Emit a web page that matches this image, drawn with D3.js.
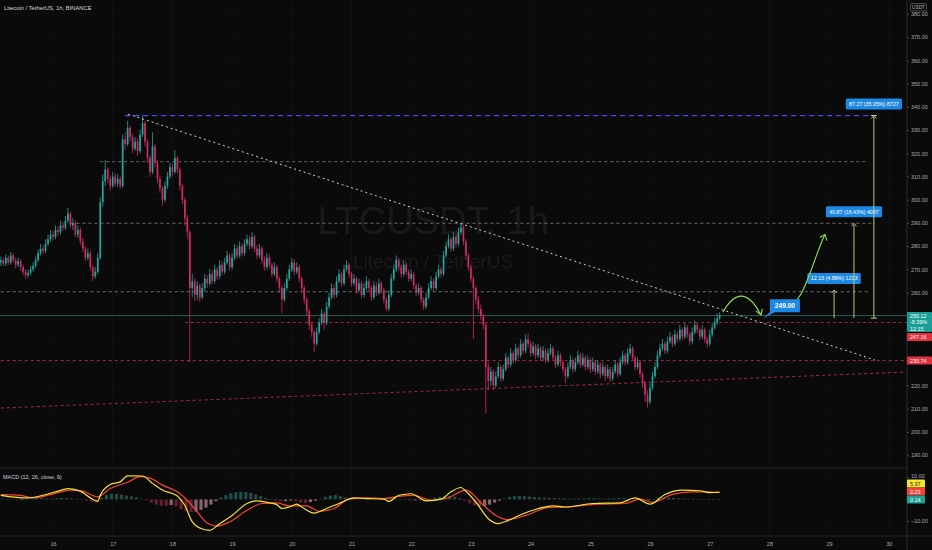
<!DOCTYPE html>
<html><head><meta charset="utf-8">
<script src="https://cdn.jsdelivr.net/npm/d3@7"></script>
<style>
html,body{margin:0;padding:0;background:#0a0a0a;overflow:hidden}
svg{display:block}
text{font-family:"Liberation Sans",Arial,sans-serif}
</style>
</head><body>
<svg id="c" width="932" height="550"></svg>
<script>
// ---------------- DATA ----------------
const startHourUTC = [2021, 3, 15, 3]; // first candle: 15 Apr 2021 03:00, 1h candles
const firstOpen = 273;
const closes = [
274,272.5,275,273,276,274,272,273.5,271,269,
267.5,268.5,270,271.5,274,277,279,278,281,283,
285,284,287,286,289,288,291,294,289,290,
285,287,282,279,275,277,271,267,269,275,
299,308,313,309,306,310,307,309,306,326,
324,331,327,322,325,321,328,333,325,318,
312,323,316,309,305,300,306,310,314,312,
318,313,306,300,292,286,262,265,259,263,
258,262,266,264,268,265,270,267,272,269,
273,276,271,275,279,276,280,277,281,283,
280,284,279,276,279,274,271,275,272,268,
271,266,262,257,262,266,270,273,269,271,
266,262,257,252,246,243,238,243,247,251,
247,254,258,262,259,265,268,264,270,272,
268,264,266,261,264,259,262,265,262,258,
263,260,264,261,257,253,259,266,270,274,
271,268,272,269,266,268,263,260,262,257,
254,258,262,265,262,267,270,268,276,280,
283,279,284,281,286,288,282,276,271,266,
262,257,253,250,246,228,222,226,220,224,
228,223,227,232,229,234,231,236,233,238,
235,240,238,234,237,233,236,232,235,231,
234,236,232,229,233,230,227,224,228,231,
227,230,233,229,232,228,231,227,230,226,
229,225,228,224,227,223,226,229,225,230,
233,230,234,236,232,228,230,225,221,216,
213,219,224,228,233,236,238,235,239,241,
238,242,240,244,241,245,242,239,243,246,
244,241,244,240,238,242,245,247,249,250.12];
const highs = [
275.5,275,276.5,276,277.5,277,275,275,274.5,272,
270,270,271.5,273,275.5,278.5,281,280.5,283,285,
287,286.5,289,288.5,291,290.5,293,296.5,295,292,
291,289,288,283.5,280,279,278,272,271,277,
301,311,317,314,310.5,312,311.5,311,310,328,
329,334,332,328.5,327,326.5,330,336.2,334,326,
319,329,324,317,310.5,306,308,312,316,315.5,
321.4,319,314,307,301,293.5,287,268,266.5,265,
264,264,268,267.5,270,269.5,272,271,274,273.5,
275,278,277,277,281,280.5,282,281.5,283,285,
284.5,286,285,280.5,281,280,275.5,277,276.5,273,
273,272,267,263,264,268,272,275,274.5,273,
272,267,263,258,253,247.5,244,245,249,253,
252,256,260,264,263.5,267,270,269,272,274,
273,269,268,267,266,265,264,267,266,263,
265,264.5,266,265,262,258,261,268,272,276,
275,272,274,273,270,270,269,264,264,263,
258,260,264,267,266,269,272,271,278,282,
285,284,286,285.5,288,290,289,283,277,272,
267,263,258.5,255,251,247,230,228,227,226,
230,229,229,234,233,236,235,238,237,240,
239,242,242.6,239,239,238,238,237,237,236,
236,238,237,233,235,234,231,228,230,233,
232,232,235,234,234,233,233,232,232,231,
231,230,230,229,229,228,228,231,230,232,
235,234,236,238,237,233,232,231,226,222,
218,221,226,230,235,238,240,239,241,243,
242,244,243.5,246,245,247,246,243,245,248,
247,245,246,245,241,244,247,249,251,251.5];
const lows = [
271.5,271.5,271.5,272,272,273,270.5,271,269.5,267.5,
266,266.5,267.5,269,270.5,273,276,276.5,277,280,
282,282.5,283,284.5,285,286.5,287,290,288,287,
284,283.5,280.5,277.5,273.5,274,269.5,265,266,268,
274,297,306,307,304,305,305.5,305.5,304.5,305,
321.5,323,325,320,321,319,320,327,323,316,
310,311,314,307,303,297.5,299,304.5,309,310,
311,311.5,304,298,289,283,230,258,256.5,257,
256,257,260.5,262,263,263.5,264,265.5,266,267.5,
268,272,269.5,270,274,274.5,275,275.5,276,280,
278.5,279,277.5,274.5,275,272.5,269.5,270,270.5,266.5,
267,264.5,260,251,256,261,265,269,267.5,268,
264.5,260,255,250,244,241,234.5,237,242,246,
244,246,253,257,257.5,258,264,262.5,263,269,
266.5,262.5,263,259.5,260,257.5,258,261,260.5,256.5,
257,258.5,259,259.5,255.5,252,252,258,265,269,
269.5,266.5,267,267.5,264.5,265,261.5,258.5,259,255.5,
252.5,253,257,261,260.5,261,266,266.5,267,275,
279,277.5,278,279.5,280,285,280.5,274.5,269.5,264.5,
240,255,251,248,244,208,218,220,218,219,
223,221.5,222,226,227.5,228,229.5,230,231.5,232,
233.5,234,236.5,232.5,233,231.5,232,230.5,231,229.5,
230,233,230.5,227.5,228,228.5,225.5,221,223,227,
225.5,226,229,227.5,228,226.5,227,225.5,226,224.5,
225,223,224,222,223,221.5,222,225,223.5,224,
229,228.5,229,233,230.5,226.5,227,223.5,219,213,
210.5,212,218,223,227,232,235,233.5,234,238,
236.5,237,238.5,239,239.5,240,240.5,237.5,238,242,
242.5,239.5,240,238.5,236.5,237,241,244,246,248];

// MACD (hour index from first candle, value)
const macdHours = [0,11,17,23,27,32,36,39,40,44,48,51,57,61,65,71,74,77,80,84,88,93,99,103,107,111,113,116,119,121,126,131,136,142,147,154,156,160,165,171,177,181,185,187,191,196,200,204,210,214,222,227,238,249,255,261,267,274,281,285,289];
const macdVals  = [1.9,0.7,1.9,3.8,5.0,3.8,0.7,-0.9,1.9,6.9,8.1,10.9,10.8,7.4,4.3,1.6,-2.7,-10.4,-13.2,-14.3,-11.2,-7.4,-1.9,-0.7,-1.4,-2.4,-4.2,-3.5,-2.2,-3.5,-6.3,-4.2,-1.9,0.7,0.4,0.1,-0.9,1.9,2.6,-0.7,0.1,3.5,5.5,3.8,-1.2,-8.9,-11.2,-9.7,-6.6,-5.0,-3.0,-3.5,-1.9,-1.6,0.7,-2.2,2.3,4.3,4.0,3.1,3.3];
const signalHours = [0,8,13,20,28,33,39,44,51,56,60,65,71,75,79,83,87,92,99,105,111,116,123,128,134,140,147,154,160,166,173,179,187,194,199,204,211,220,227,240,251,257,262,270,278,284,289];
const signalVals  = [2.2,1.9,0.7,2.2,4.3,3.8,1.2,5.0,7.9,10.5,9.8,6.6,3.5,-0.4,-5.8,-10.9,-12.3,-10.4,-5.0,-1.9,-1.6,-3.0,-3.0,-5.5,-4.2,0.1,0.7,0.4,1.4,1.9,-0.4,0.4,4.3,-2.7,-7.4,-9.3,-7.4,-3.8,-3.5,-2.2,-1.9,0.1,-1.4,2.3,3.5,3.5,3.2];
// histogram, one value per 2 hours
const histVals = [
0.3,0.2,-0.2,-0.4,-0.3,0.1,0.3,0.5,0.6,0.4,
0.3,0.5,0.7,0.6,0.4,0.1,-0.3,-0.6,-1.0,-1.5,
0.8,2.0,2.6,2.5,2.2,1.8,1.4,0.9,0.3,-0.5,
-1.5,-2.4,-2.9,-3.0,-2.6,-3.2,-4.5,-5.5,-5.8,-5.6,
-4.8,-3.8,-2.4,-0.8,0.9,2.0,2.8,3.3,3.5,3.4,
3.0,2.3,1.5,0.7,0.0,-0.6,-1.0,-0.8,-0.5,-0.9,
-1.4,-1.6,-1.2,-0.6,0.3,1.2,1.8,2.0,1.6,1.0,
0.6,0.4,0.3,0.2,0.0,-0.3,0.2,0.6,0.8,0.6,
0.3,-0.2,-0.5,-0.4,-0.2,0.0,0.4,0.8,1.2,1.5,
1.6,1.3,0.6,-0.6,-1.8,-2.8,-3.2,-3.0,-2.4,-1.5,
-0.6,0.4,1.1,1.5,1.6,1.5,1.3,1.1,0.9,0.8,
0.7,0.6,0.5,0.5,0.4,0.4,0.4,0.4,0.5,0.5,
0.4,0.3,0.4,0.5,0.6,0.5,0.3,0.1,-0.3,-0.6,
-0.4,0.3,0.8,1.0,0.9,0.7,0.5,0.4,0.3,0.3,
0.2,0.1,0.1,0.2,0.2];

const priceTicks = [190,200,210,220,230,240,250,260,270,280,290,300,310,320,330,340,350,360,370,380];
const hiddenPriceTicks = [230,240,250]; // covered by the price tags
const macdTicks = [10,-10];
const dayTicks = [16,17,18,19,20,21,22,23,24,25,26,27,28,29,30];

// drawings (hour index, price)
const levelPrices = [336.27, 316.4, 289.87, 260.4, 247.16, 230.74];
const levelStart  = [50, 40, 28, 0, 74, 0];
const levelEnd    = [350.6, 348.2, 351.4, 349.4, 366, 366];
const trendFrom = [51.1, 336.9], trendTo = [351.4, 231.0];
const supportFrom = [0, 210.3], supportTo = [366, 225.9];
const lastPrice = 250.12;
const basePrice = 249.0;
const rangeHours = [335, 343, 351];
const rangeTops = [261.13, 289.87, 336.27];
const rangeLabels = ["12.13 (4.88%) 1213", "40.87 (16.43%) 4087", "87.27 (35.05%) 8727"];
const calloutHour = 306.4, calloutText = "249.00";
const arc1 = [[290.3,251.6],[298,266],[305.6,250.4]];
const arc2 = [[315.3,253.5],[323,255],[325,270],[331.3,285]];

// ---------------- DRAW ----------------
const svg = d3.select("#c");
const W = 932, H = 550, axisX = 907, mainBottom = 467, macdTop = 468, macdBottom = 536;
const HOUR = 3600e3;
const t0 = Date.UTC(...startHourUTC);
const tAt = h => new Date(t0 + h * HOUR);
const x = d3.scaleUtc().domain([tAt(-0.3055), tAt(364.32)]).range([0, axisX]);
const y = d3.scaleLinear().domain([184.91, 386.03]).range([mainBottom, 0]);
const ym = d3.scaleLinear().domain([-16.9, 14.5]).range([macdBottom, macdTop]);
const xh = h => x(tAt(h));

svg.append("rect").attr("width", W).attr("height", H).attr("fill", "#0a0a0a");

// grid
const grid = svg.append("g");
grid.selectAll(".vg").data(dayTicks).join("line")
  .attr("x1", d => x(new Date(Date.UTC(2021,3,d)))).attr("x2", d => x(new Date(Date.UTC(2021,3,d))))
  .attr("y1", 0).attr("y2", macdBottom).attr("stroke", "#ffffff").attr("stroke-opacity", 0.03);
grid.selectAll(".hg").data(priceTicks).join("line")
  .attr("x1", 0).attr("x2", axisX).attr("y1", d => y(d)).attr("y2", d => y(d))
  .attr("stroke", "#ffffff").attr("stroke-opacity", 0.025);

// watermark
svg.append("text").attr("x", 433).attr("y", 234).attr("text-anchor", "middle")
  .attr("font-size", 38).attr("fill", "#ffffff").attr("fill-opacity", 0.075).text("LTCUSDT, 1h");
svg.append("text").attr("x", 433).attr("y", 268).attr("text-anchor", "middle")
  .attr("font-size", 19).attr("fill", "#ffffff").attr("fill-opacity", 0.075).text("Litecoin / TetherUS");

svg.append("defs").append("clipPath").attr("id", "mc").append("rect")
  .attr("x", 0).attr("y", 0).attr("width", axisX).attr("height", mainBottom);
const main = svg.append("g").attr("clip-path", "url(#mc)");

// horizontal level lines
const levelColor = ["#4a4aff", "#6a6a6a", "#6a6a6a", "#6a6a6a", "#a8283f", "#a8283f"];
const levelDash = ["5,4", "3,3", "3,3", "3,3", "3,3", "3,3"];
const levelWidth = [1.3, 1, 1, 1, 1, 1];
main.selectAll(".lvl").data(levelPrices).join("line")
  .attr("x1", (d,i) => xh(levelStart[i])).attr("x2", (d,i) => xh(levelEnd[i]))
  .attr("y1", d => y(d)).attr("y2", d => y(d))
  .attr("stroke", (d,i) => levelColor[i]).attr("stroke-width", (d,i) => levelWidth[i])
  .attr("stroke-dasharray", (d,i) => levelDash[i]);
// sloping support
main.append("line").attr("x1", xh(supportFrom[0])).attr("y1", y(supportFrom[1]))
  .attr("x2", xh(supportTo[0])).attr("y2", y(supportTo[1]))
  .attr("stroke", "#a8283f").attr("stroke-dasharray", "3,3");
// last price line
main.append("line").attr("x1", 0).attr("x2", axisX).attr("y1", y(lastPrice)).attr("y2", y(lastPrice))
  .attr("stroke", "#2f5a56").attr("stroke-width", 1);

// candles
const candles = closes.map((c, i) => ({i, o: i ? closes[i-1] : firstOpen, c, h: highs[i], l: lows[i]}));
const upC = "#26a69a", dnC = "#d02a62";
const cg = main.append("g");
cg.selectAll(".w").data(candles).join("line")
  .attr("x1", d => xh(d.i)).attr("x2", d => xh(d.i))
  .attr("y1", d => y(d.h)).attr("y2", d => y(d.l))
  .attr("stroke", d => d.c >= d.o ? upC : dnC).attr("stroke-width", 0.8);
cg.selectAll(".b").data(candles).join("rect")
  .attr("x", d => xh(d.i) - 0.85).attr("width", 1.7)
  .attr("y", d => y(Math.max(d.o, d.c)))
  .attr("height", d => Math.max(0.8, Math.abs(y(d.o) - y(d.c))))
  .attr("fill", d => d.c >= d.o ? upC : dnC);

// trendline
main.append("line").attr("x1", xh(trendFrom[0])).attr("y1", y(trendFrom[1]))
  .attr("x2", xh(trendTo[0])).attr("y2", y(trendTo[1]))
  .attr("stroke", "#cfcfcf").attr("stroke-width", 1).attr("stroke-dasharray", "2,3");

// range arrows
const rg = main.append("g");
rangeHours.forEach((h, i) => {
  const xx = xh(h), yb = y(basePrice), yt = y(rangeTops[i]);
  const col = i === 2 ? "#b9c88a" : "#c9bf78";
  rg.append("line").attr("x1", xx).attr("x2", xx).attr("y1", yb).attr("y2", yt + 1)
    .attr("stroke", col).attr("stroke-width", 1);
  rg.append("path").attr("d", `M${xx-2.5},${yt+3}L${xx},${yt}L${xx+2.5},${yt+3}`)
    .attr("fill", "none").attr("stroke", col).attr("stroke-width", 1);
  if (i === 2) {
    rg.append("line").attr("x1", xx-3).attr("x2", xx+3).attr("y1", yb).attr("y2", yb).attr("stroke", col);
    rg.append("line").attr("x1", xx-3).attr("x2", xx+3).attr("y1", yt).attr("y2", yt).attr("stroke", col);
  }
  const lw = rangeLabels[i].length * 2.75 + 4;
  rg.append("rect").attr("x", xx - lw/2).attr("y", yt - 17).attr("width", lw).attr("height", 11)
    .attr("rx", 1.5).attr("fill", "#1e88e5");
  rg.append("text").attr("x", xx).attr("y", yt - 9.6).attr("text-anchor", "middle")
    .attr("font-size", 5.3).attr("fill", "#ffffff").text(rangeLabels[i]);
});

// green arrows
const ga = main.append("g").attr("fill", "none").attr("stroke", "#8fdc5a").attr("stroke-width", 1.1);
const p1 = arc1.map(d => [xh(d[0]), y(d[1])]);
ga.append("path").attr("d", `M${p1[0][0]},${p1[0][1]}Q${p1[1][0]},${p1[1][1]} ${p1[2][0]},${p1[2][1]}`);
ga.append("path").attr("d", `M${p1[2][0]-5},${p1[2][1]-4}L${p1[2][0]},${p1[2][1]}L${p1[2][0]+1.5},${p1[2][1]-6}`);
const p2 = arc2.map(d => [xh(d[0]), y(d[1])]);
ga.append("path").attr("d", `M${p2[0][0]},${p2[0][1]}C${p2[1][0]},${p2[1][1]} ${p2[2][0]},${p2[2][1]} ${p2[3][0]},${p2[3][1]}`);
ga.append("path").attr("d", `M${p2[3][0]-5},${p2[3][1]+3}L${p2[3][0]},${p2[3][1]}L${p2[3][0]+2},${p2[3][1]+6}`);

// callout
const cpx = xh(calloutHour), cpy = y(basePrice);
main.append("path").attr("d", `M${cpx},${cpy}L${cpx+7},${cpy-6}L${cpx+7},${cpy-19}L${cpx+37},${cpy-19}L${cpx+37},${cpy-6}L${cpx+12},${cpy-6}Z`)
  .attr("fill", "#1e88e5");
main.append("text").attr("x", cpx + 22).attr("y", cpy - 10).attr("text-anchor", "middle")
  .attr("font-size", 6.6).attr("font-weight", "bold").attr("fill", "#fff").text(calloutText);

// header
svg.append("text").attr("x", 4).attr("y", 10).attr("font-size", 5.8).attr("fill", "#d6d6d6").text("Litecoin / TetherUS, 1h, BINANCE");

// MACD pane
svg.append("line").attr("x1", 0).attr("x2", axisX).attr("y1", macdTop).attr("y2", macdTop).attr("stroke", "#262626");
svg.append("line").attr("x1", 0).attr("x2", W).attr("y1", macdBottom).attr("y2", macdBottom).attr("stroke", "#262626");
svg.append("line").attr("x1", axisX).attr("x2", axisX).attr("y1", 0).attr("y2", H).attr("stroke", "#2a2a2a");
svg.selectAll(".mg").data(macdTicks).join("line")
  .attr("x1", 0).attr("x2", axisX).attr("y1", d => ym(d)).attr("y2", d => ym(d))
  .attr("stroke", "#ffffff").attr("stroke-opacity", 0.03);

const hg = svg.append("g");
hg.selectAll("rect").data(histVals).join("rect")
  .attr("x", (d,i) => xh(i*2 + 0.5) - 1.6).attr("width", 3.2)
  .attr("y", d => Math.min(ym(0), ym(d))).attr("height", d => Math.max(0.5, Math.abs(ym(d) - ym(0))))
  .attr("fill", (d,i) => {
    const prev = i ? histVals[i-1] : d;
    if (d >= 0) return d >= prev ? "#1f6f66" : "#3c5f5b";
    return d <= prev ? "#8a2a3c" : "#b88a98";
  }).attr("fill-opacity", 0.7);

const mline = d3.line().x(d => xh(d[0])).y(d => ym(d[1])).curve(d3.curveMonotoneX);
svg.append("path").datum(signalHours.map((h,i) => [h, signalVals[i]])).attr("d", mline)
  .attr("fill", "none").attr("stroke", "#f44336").attr("stroke-width", 1.2);
svg.append("path").datum(macdHours.map((h,i) => [h, macdVals[i]])).attr("d", mline)
  .attr("fill", "none").attr("stroke", "#f5e431").attr("stroke-width", 1.2);

svg.append("text").attr("x", 3).attr("y", 479).attr("font-size", 5.5).attr("fill", "#cfcfcf").text("MACD (12, 26, close, 9)");

// price axis
const pa = svg.append("g").attr("transform", `translate(${axisX},0)`)
  .call(d3.axisRight(y).tickValues(priceTicks.filter(t => !hiddenPriceTicks.includes(t)))
    .tickFormat(d3.format(".2f")).tickSize(2).tickPadding(2));
pa.select(".domain").remove();
pa.selectAll("line").attr("stroke", "#444");
pa.selectAll("text").attr("font-size", 5.5).attr("fill", "#a9abb0").attr("font-family", "Liberation Sans, Arial, sans-serif");

const ma = svg.append("g").attr("transform", `translate(${axisX},0)`)
  .call(d3.axisRight(ym).tickValues(macdTicks).tickFormat(d3.format(".2f")).tickSize(2).tickPadding(2));
ma.select(".domain").remove();
ma.selectAll("line").attr("stroke", "#444");
ma.selectAll("text").attr("font-size", 5.5).attr("fill", "#a9abb0").attr("font-family", "Liberation Sans, Arial, sans-serif")
  .attr("dy", (d) => d > 0 ? "-0.05em" : "0.32em");

// time axis
const ta = svg.append("g").attr("transform", `translate(0,${macdBottom})`)
  .call(d3.axisBottom(x).tickValues(dayTicks.map(d => new Date(Date.UTC(2021,3,d)))).tickFormat(d3.utcFormat("%-d")).tickSize(0).tickPadding(6));
ta.select(".domain").remove();
ta.selectAll("text").attr("font-size", 5.5).attr("fill", "#a9abb0").attr("font-family", "Liberation Sans, Arial, sans-serif");

// USDT box
svg.append("rect").attr("x", 910.5).attr("y", 3.5).attr("width", 16).attr("height", 7.5).attr("rx", 1.5)
  .attr("fill", "none").attr("stroke", "#777").attr("stroke-width", 0.6);
svg.append("text").attr("x", 918.5).attr("y", 9.2).attr("text-anchor", "middle").attr("font-size", 4.8).attr("fill", "#bbb").text("USDT");

// axis labels (price tags)
function tag(yc, h, fill, lines, tcol, w) {
  svg.append("rect").attr("x", axisX).attr("y", yc - h/2).attr("width", w || 25).attr("height", h).attr("rx", 1).attr("fill", fill);
  lines.forEach((s, k) => svg.append("text").attr("x", axisX + 3).attr("y", yc - h/2 + 6 + k*6.3)
    .attr("font-size", 5.4).attr("fill", tcol).text(s));
}
tag(322, 20, "#1a9e98", [d3.format(".2f")(lastPrice), "-8.39%", "12:15"], "#ffffff");
tag(337, 8, "#e3303f", [d3.format(".2f")(levelPrices[4])], "#ffffff");
tag(y(levelPrices[5]), 8, "#e3303f", [d3.format(".2f")(levelPrices[5])], "#ffffff");
tag(483.5, 8, "#f5e431", ["5.37"], "#222", 18);
tag(491.5, 8, "#f44336", ["3.23"], "#ffffff", 18);
tag(499.5, 8, "#1f9e92", ["0.14"], "#ffffff", 18);
</script>
</body></html>
